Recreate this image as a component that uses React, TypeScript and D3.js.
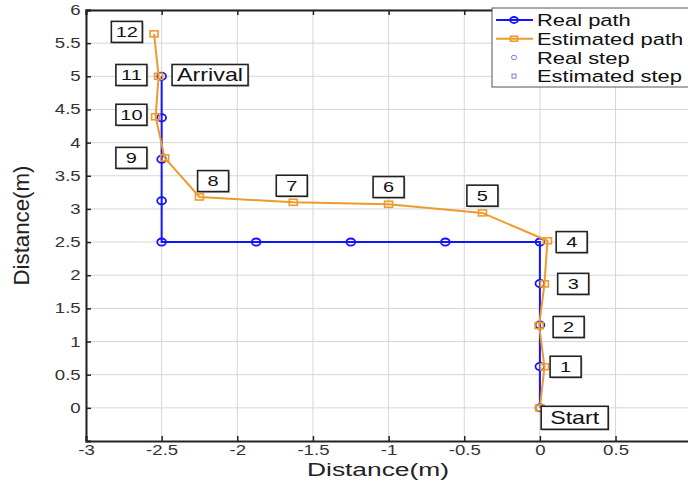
import React, { useEffect, useRef } from 'react'
import * as d3 from 'd3'

// real path: start + 12 steps
const realX = [0, 0, 0, 0, 0, -0.625, -1.25, -1.875, -2.5, -2.5, -2.5, -2.5, -2.5]
const realY = [0, 0.625, 1.25, 1.875, 2.5, 2.5, 2.5, 2.5, 2.5, 3.125, 3.75, 4.375, 5]

// estimated path
const estX = [0, 0.03, -0.005, 0.03, 0.05, -0.38, -1.0, -1.63, -2.25, -2.48, -2.54, -2.52, -2.55]
const estY = [0, 0.62, 1.24, 1.87, 2.52, 2.94, 3.07, 3.1, 3.18, 3.77, 4.39, 5.0, 5.64]

// step labels (text, anchor in data units)
const labelText = ['Start', '1', '2', '3', '4', '5', '6', '7', '8', '9', '10', '11', '12', 'Arrival']
const labelX = [0.23, 0.17, 0.19, 0.22, 0.21, -0.38, -1.0, -1.64, -2.16, -2.7, -2.7, -2.7, -2.73, -2.18]
const labelY = [-0.15, 0.62, 1.22, 1.87, 2.5, 3.2, 3.33, 3.35, 3.42, 3.77, 4.42, 5.02, 5.67, 5.02]

const xTicks = [-3, -2.5, -2, -1.5, -1, -0.5, 0, 0.5, 1]
const yTicks = [0, 0.5, 1, 1.5, 2, 2.5, 3, 3.5, 4, 4.5, 5, 5.5, 6]
const legendItems = ['Real path', 'Estimated path', 'Real step', 'Estimated step']

const BLUE = '#1414ff'
const ORANGE = '#ee9a2c'
const STEP = '#7a7ae0'
const FONT = '"Liberation Sans", Arial, sans-serif'
const SX = 1.33 // the reference is stretched sideways

export default function App() {
  const ref = useRef<SVGSVGElement>(null)

  useEffect(() => {
    const el = ref.current
    if (!el) return
    const svg = d3.select(el)
    svg.selectAll('*').remove()

    const W = 688, H = 491
    const left = 86, top = 10, bottom = 441
    const x = d3.scaleLinear().domain([-3, 1]).range([left, left + 4 * 151.3])
    const y = d3.scaleLinear().domain([-0.5, 6]).range([bottom, top])
    const right = x(1)

    svg.append('rect').attr('width', W).attr('height', H).attr('fill', '#fff')

    // grid
    const grid = svg.append('g').attr('stroke', '#d6d6d6').attr('stroke-width', 1)
    xTicks.forEach(t => {
      grid.append('line').attr('x1', x(t)).attr('x2', x(t)).attr('y1', top).attr('y2', bottom)
    })
    yTicks.forEach(t => {
      grid.append('line').attr('x1', left).attr('x2', right).attr('y1', y(t)).attr('y2', y(t))
    })

    // axes (ticks inward); the x label at 1 falls off the picture
    const fmtX = (d: d3.NumberValue) => (+d === 1 ? '' : String(+d))
    const fmtY = (d: d3.NumberValue) => String(+d)
    const ax = d3.axisBottom(x).tickValues(xTicks).tickSize(-5).tickPadding(4).tickFormat(fmtX)
    const ay = d3.axisLeft(y).tickValues(yTicks).tickSize(-5).tickPadding(4).tickFormat(fmtY)
    const gx = svg.append('g').attr('transform', `translate(0,${bottom})`).call(ax)
    const gy = svg.append('g').attr('transform', `translate(${left},0)`).call(ay)
    const axTop = d3.axisTop(x).tickValues(xTicks).tickSize(-5).tickFormat(() => '')
    svg.append('g').attr('transform', `translate(0,${top})`).call(axTop)
    ;[gx, gy].forEach(g => {
      g.selectAll('text').attr('font-family', FONT).attr('font-size', 14).attr('fill', '#333')
        .attr('transform', `scale(${SX},1)`)
    })
    svg.selectAll('.domain').attr('stroke', '#222').attr('stroke-width', 2)
    svg.selectAll('.tick line').attr('stroke', '#222').attr('stroke-width', 1.5)

    // axis titles
    svg.append('text').attr('x', (left + 688) / 2 - 9).attr('y', 476)
      .attr('text-anchor', 'middle').attr('font-family', FONT).attr('font-size', 17.5).attr('fill', '#222')
      .attr('textLength', 142).attr('lengthAdjust', 'spacingAndGlyphs')
      .text('Distance(m)')
    svg.append('g').attr('transform', `translate(29,${(top + bottom) / 2}) rotate(-90)`)
      .append('text').attr('text-anchor', 'middle').attr('transform', `scale(1,${SX})`)
      .attr('font-family', FONT).attr('font-size', 16).attr('fill', '#222')
      .attr('textLength', 120).attr('lengthAdjust', 'spacingAndGlyphs')
      .text('Distance(m)')

    const real = realX.map((v, i) => [v, realY[i]] as [number, number])
    const est = estX.map((v, i) => [v, estY[i]] as [number, number])
    const line = d3.line<[number, number]>().x(d => x(d[0])).y(d => y(d[1]))

    svg.append('path').attr('d', line(real)).attr('fill', 'none').attr('stroke', BLUE).attr('stroke-width', 2)
    svg.selectAll('ellipse.real').data(real).join('ellipse').attr('class', 'real')
      .attr('cx', d => x(d[0])).attr('cy', d => y(d[1])).attr('rx', 4.4).attr('ry', 3.6)
      .attr('fill', 'none').attr('stroke', BLUE).attr('stroke-width', 1.8)

    svg.append('path').attr('d', line(est)).attr('fill', 'none').attr('stroke', ORANGE).attr('stroke-width', 2)
    svg.selectAll('rect.est').data(est).join('rect').attr('class', 'est')
      .attr('x', d => x(d[0]) - 4).attr('y', d => y(d[1]) - 3).attr('width', 8).attr('height', 6)
      .attr('fill', 'none').attr('stroke', ORANGE).attr('stroke-width', 1.6)

    // step labels
    labelText.forEach((t, i) => {
      const isStart = t === 'Start'
      const isArr = t === 'Arrival'
      const fs = isStart || isArr ? 17.5 : 15
      const w = isStart ? 67 : isArr ? 76 : 31
      const h = isStart ? 23 : 21
      const g = svg.append('g').attr('transform', `translate(${x(labelX[i])},${y(labelY[i])})`)
      g.append('rect').attr('x', -w / 2 + 1.5).attr('y', -h / 2 + 1.5).attr('width', w).attr('height', h)
        .attr('fill', '#999').attr('opacity', 0.5)
      g.append('rect').attr('x', -w / 2).attr('y', -h / 2).attr('width', w).attr('height', h)
        .attr('fill', '#fff').attr('stroke', '#222').attr('stroke-width', 1.6)
      g.append('text').attr('text-anchor', 'middle').attr('dy', '0.36em')
        .attr('transform', `scale(${SX},1)`)
        .attr('font-family', FONT).attr('font-size', fs).attr('fill', '#111').text(t)
    })

    // legend
    const LSX = 1.29
    const lg = svg.append('g').attr('transform', 'translate(492,8)')
    lg.append('rect').attr('width', 210).attr('height', 79).attr('fill', '#fff')
      .attr('stroke', '#555').attr('stroke-width', 1)
    legendItems.forEach((t, i) => {
      const yy = 12 + i * 18.7
      const row = lg.append('g').attr('transform', `translate(0,${yy})`)
      if (i === 0) {
        row.append('line').attr('x1', 4).attr('x2', 41).attr('stroke', BLUE).attr('stroke-width', 2)
        row.append('ellipse').attr('cx', 22).attr('rx', 4).attr('ry', 3).attr('fill', 'none')
          .attr('stroke', BLUE).attr('stroke-width', 1.8)
      } else if (i === 1) {
        row.append('line').attr('x1', 4).attr('x2', 41).attr('stroke', ORANGE).attr('stroke-width', 2)
        row.append('rect').attr('x', 18.5).attr('y', -2.5).attr('width', 7).attr('height', 5)
          .attr('fill', 'none').attr('stroke', ORANGE).attr('stroke-width', 1.6)
      } else if (i === 2) {
        row.append('ellipse').attr('cx', 22).attr('rx', 2.6).attr('ry', 2.2).attr('fill', 'none')
          .attr('stroke', STEP).attr('stroke-width', 1)
      } else {
        row.append('rect').attr('x', 20).attr('y', -2).attr('width', 4).attr('height', 4)
          .attr('fill', 'none').attr('stroke', STEP).attr('stroke-width', 1)
      }
      row.append('text').attr('x', 45 / LSX).attr('dy', '0.36em').attr('transform', `scale(${LSX},1)`)
        .attr('font-family', FONT).attr('font-size', 17).attr('fill', '#111').text(t)
    })
  }, [])

  return (
    <svg ref={ref} width={688} height={491}
      style={{ position: 'absolute', left: 0, top: 0, display: 'block' }} />
  )
}
